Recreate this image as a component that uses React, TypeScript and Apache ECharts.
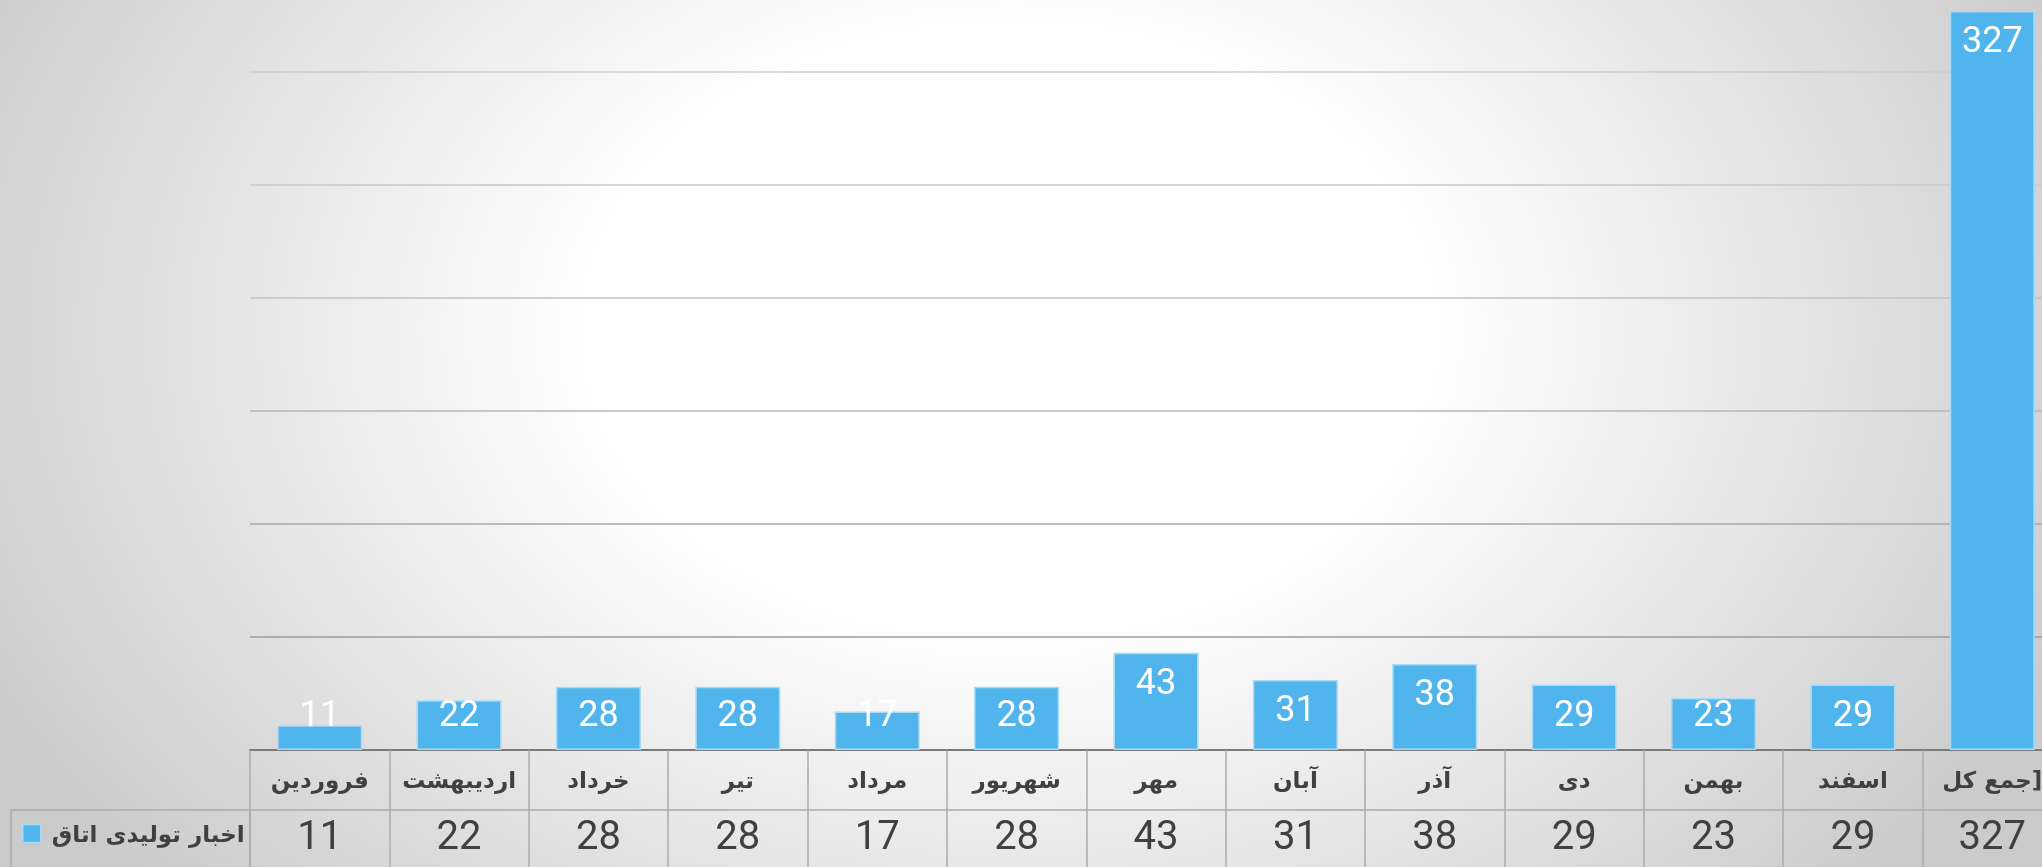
import React, { useEffect, useRef } from "react";
import * as echarts from "echarts";

const months = [
  "فروردین",
  "اردیبهشت",
  "خرداد",
  "تیر",
  "مرداد",
  "شهریور",
  "مهر",
  "آبان",
  "آذر",
  "دی",
  "بهمن",
  "اسفند",
  "جمع کل]",
];
const values = [11, 22, 28, 28, 17, 28, 43, 31, 38, 29, 23, 29, 327];
const seriesName = "اخبار تولیدی اتاق";
const yMin = 0;
const yMax = 350;
const yInterval = 50;

export default function App() {
  const ref = useRef<HTMLDivElement>(null);
  useEffect(() => {
    if (!ref.current) return;
    const chart = echarts.init(ref.current, undefined, { renderer: "svg" });
    const barData = values.map((v) => ({
      value: v,
      label:
        v >= 30
          ? { position: "insideTop", distance: 11 }
          : { position: "insideBottom", distance: 18 },
    }));
    chart.setOption({
      animation: false,
      backgroundColor: "transparent",
      grid: { left: 250, right: 0, top: 0, bottom: 117, containLabel: false },
      legend: {
        left: 22,
        top: 863,
        padding: 0,
        icon: "rect",
        itemWidth: 18,
        itemHeight: 18,
        itemStyle: { borderColor: "#a9d9f3", borderWidth: 1.5 },
        textStyle: {
          fontFamily: "DejaVu Sans",
          fontWeight: "bold",
          fontSize: 23,
          color: "#404040",
          padding: [0, 0, 0, 6],
        },
        data: [seriesName],
      },
      xAxis: [
        {
          type: "category",
          data: months,
          position: "bottom",
          axisLine: { show: true, lineStyle: { color: "#7a7a7a", width: 2 } },
          axisTick: {
            show: true,
            interval: 0,
            length: 117,
            lineStyle: { color: "#ababab", width: 1.5 },
          },
          axisLabel: {
            interval: 0,
            margin: 18,
            fontFamily: "DejaVu Sans",
            fontWeight: "bold",
            fontSize: 23,
            color: "#404040",
          },
        },
        {
          type: "category",
          data: values.map((v) => String(v)),
          position: "bottom",
          offset: 60,
          axisLine: { show: true, lineStyle: { color: "#ababab", width: 1.5 } },
          axisTick: { show: false },
          axisLabel: {
            interval: 0,
            margin: 5,
            fontFamily: "Roboto",
            fontSize: 40,
            color: "#404040",
          },
        },
      ],
      yAxis: {
        type: "value",
        min: yMin,
        max: yMax,
        interval: yInterval,
        axisLabel: { show: false },
        axisLine: { show: false },
        axisTick: { show: false },
        splitLine: {
          show: true,
          lineStyle: {
            width: 1.5,
            color: [
              "#888888",
              "#9c9c9c",
              "#a9a9a9",
              "#b6b6b6",
              "#c2c2c2",
              "#c9c9c9",
              "#cdcdcd",
              "#cdcdcd",
            ],
          },
        },
      },
      series: [
        {
          name: seriesName,
          type: "bar",
          xAxisIndex: 0,
          barWidth: 85,
          data: barData,
          itemStyle: {
            color: "#4fb5ec",
            borderColor: "#a9d9f3",
            borderWidth: 1.5,
          },
          label: {
            show: true,
            color: "#ffffff",
            fontFamily: "Roboto",
            fontSize: 36,
          },
        },
      ],
      graphic: [
        {
          type: "rect",
          shape: { x: 11, y: 851, width: 239, height: 70 },
          style: { fill: "none", stroke: "#ababab", lineWidth: 1.5 },
          silent: true,
        },
      ],
    });
    return () => chart.dispose();
  }, []);
  return (
    <div
      style={{
        position: "fixed",
        left: 0,
        top: 0,
        width: 2042,
        height: 867,
        overflow: "hidden",
        background:
          "radial-gradient(ellipse 1150px 830px at 1010px 330px, #ffffff 0%, #ffffff 36%, #cbcbcb 100%)",
      }}
    >
      <div
        ref={ref}
        style={{ position: "absolute", left: 0, top: -41, width: 2062, height: 908 }}
      />
    </div>
  );
}
